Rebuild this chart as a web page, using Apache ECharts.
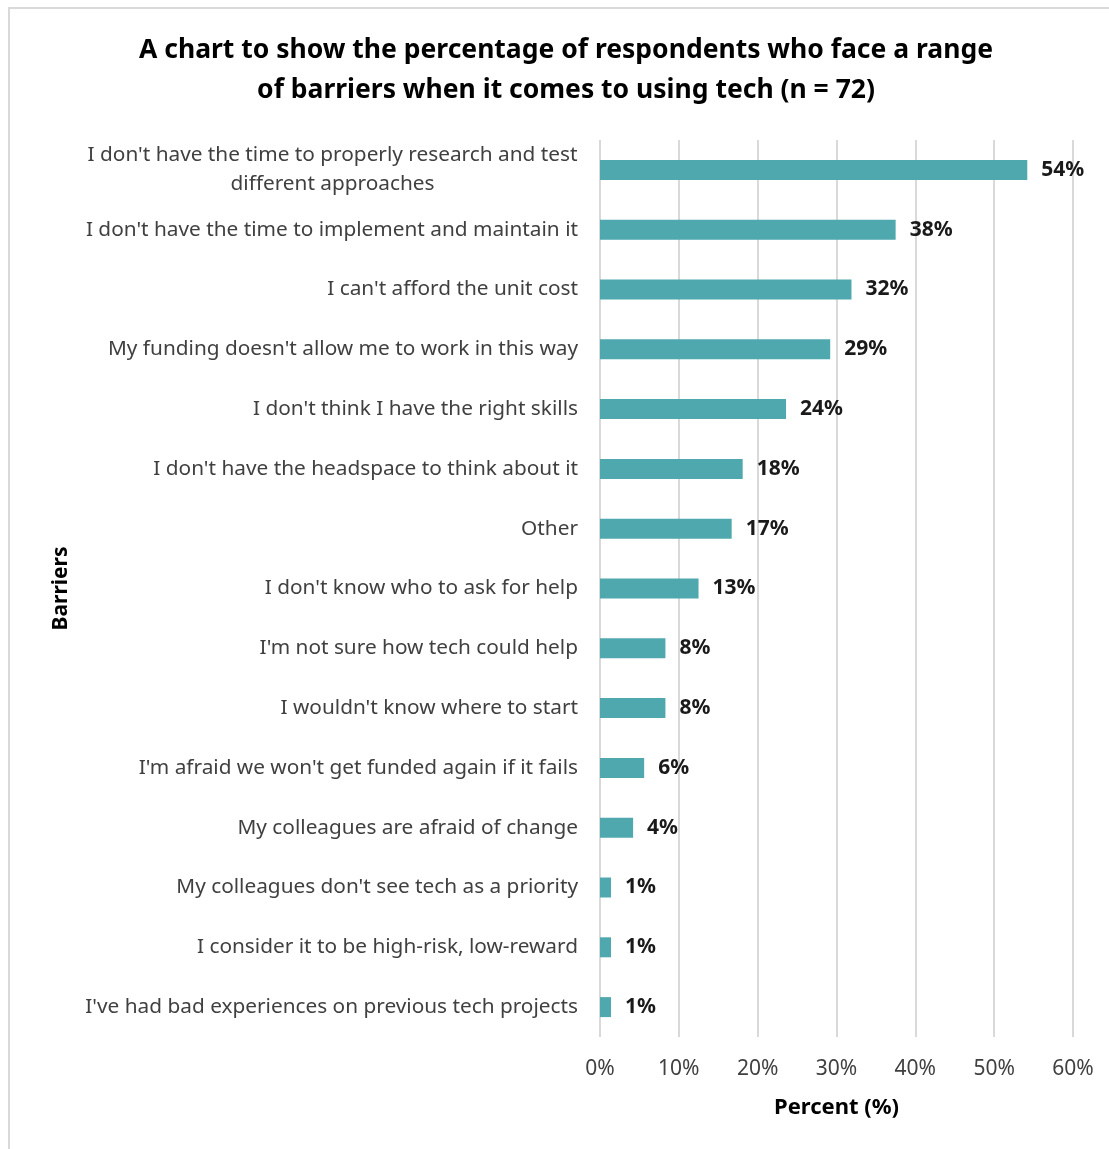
<!DOCTYPE html>
<html>
<head>
<meta charset="utf-8">
<script src="https://cdn.jsdelivr.net/npm/echarts@6/dist/echarts.min.js"></script>
<style>
  html, body { margin: 0; padding: 0; background: #fff; }
  #main { position: absolute; left: 8px; top: 7px; width: 1101px; height: 1142px;
          border-left: 2px solid #d9d9d9; border-top: 2px solid #d9d9d9; box-sizing: border-box; }
</style>
</head>
<body>
<div id="main"></div>
<script>
// barriers, top to bottom as in the picture
var barriers = [
  "I don't have the time to properly research and test\ndifferent approaches",
  "I don't have the time to implement and maintain it",
  "I can't afford the unit cost",
  "My funding doesn't allow me to work in this way",
  "I don't think I have the right skills",
  "I don't have the headspace to think about it",
  "Other",
  "I don't know who to ask for help",
  "I'm not sure how tech could help",
  "I wouldn't know where to start",
  "I'm afraid we won't get funded again if it fails",
  "My colleagues are afraid of change",
  "My colleagues don't see tech as a priority",
  "I consider it to be high-risk, low-reward",
  "I've had bad experiences on previous tech projects"
];
// percent of respondents (n = 72)
var percent = [54.2, 37.5, 31.9, 29.2, 23.6, 18.1, 16.7, 12.5, 8.3, 8.3, 5.6, 4.2, 1.4, 1.4, 1.4];

var xTicks = [0, 10, 20, 30, 40, 50, 60];

var font = '"Noto Sans", sans-serif';
var chart = echarts.init(document.getElementById('main'));

// first category wraps, second line is centred under the first
function catLabel(v) {
  if (v.indexOf('\n') >= 0) {
    return v.split('\n').map(function (s) { return '{c|' + s + '}'; }).join('\n');
  }
  return v;
}

var option = {
  animation: false,
  title: {
    text: 'A chart to show the percentage of respondents who face a range\nof barriers when it comes to using tech (n = 72)',
    left: 551, top: 16, textAlign: 'center',
    textStyle: { fontFamily: font, fontSize: 26.5, fontWeight: 'bold', color: '#000', lineHeight: 40 }
  },
  grid: { left: 590, right: 36, top: 131, bottom: 112, containLabel: false },
  xAxis: {
    type: 'value', min: 0, max: 60, interval: 10,
    name: 'Percent (%)', nameLocation: 'middle', nameGap: 60,
    nameTextStyle: { fontFamily: font, fontSize: 22, fontWeight: 'bold', color: '#000' },
    axisLine: { show: false }, axisTick: { show: false },
    axisLabel: { fontFamily: font, fontSize: 21, color: '#404040', margin: 22,
      formatter: function (v) { return xTicks.indexOf(v) >= 0 ? v + '%' : ''; } },
    splitLine: { show: true, lineStyle: { color: '#d9d9d9', width: 2 } }
  },
  yAxis: {
    type: 'category', inverse: true, data: barriers,
    name: 'Barriers', nameLocation: 'middle', nameGap: 528, nameRotate: 90,
    nameTextStyle: { fontFamily: font, fontSize: 21, fontWeight: 'bold', color: '#000' },
    axisLine: { show: false }, axisTick: { show: false },
    axisLabel: { fontFamily: font, fontSize: 20.8, color: '#404040', margin: 22,
      formatter: catLabel,
      rich: { c: { fontFamily: font, fontSize: 20.8, color: '#404040', width: 491, align: 'center', lineHeight: 29 } } }
  },
  series: [{
    type: 'bar', data: percent, barWidth: 20,
    itemStyle: { color: '#4ea8ae' },
    label: { show: true, position: 'right', distance: 14,
      fontFamily: font, fontSize: 21, fontWeight: 'bold', color: '#1a1a1a',
      formatter: function (p) { return Math.round(p.value) + '%'; } }
  }]
};
chart.setOption(option);
</script>
</body>
</html>
